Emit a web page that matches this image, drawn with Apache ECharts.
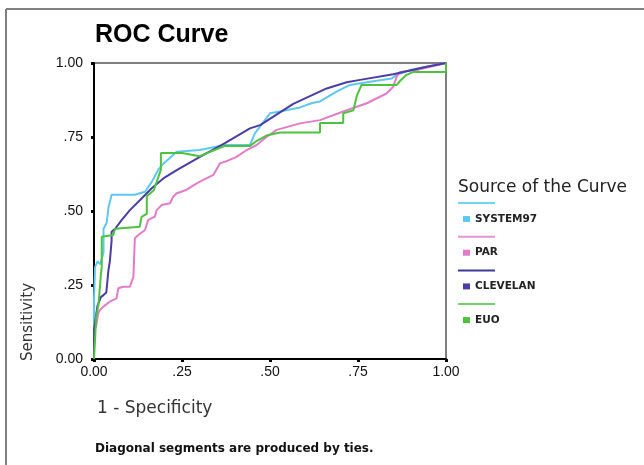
<!DOCTYPE html>
<html>
<head>
<meta charset="utf-8">
<title>ROC Curve</title>
<script src="https://cdn.jsdelivr.net/npm/echarts@6/dist/echarts.min.js"></script>
<style>
  html, body { margin: 0; padding: 0; background: #fff; }
  #chart { width: 644px; height: 465px; }
</style>
</head>
<body>
<div id="chart"></div>
<script>
// curve names, in drawing order (last one on top)
const curveNames = ['SYSTEM97', 'PAR', 'CLEVELAN', 'EUO'];

// [1 - specificity, sensitivity]
const system97 = [
  [0, 0], [0, 0.2], [0.003, 0.31], [0.01, 0.33], [0.018, 0.32], [0.027, 0.36], [0.027, 0.44],
  [0.036, 0.46], [0.041, 0.51], [0.05, 0.555], [0.116, 0.555], [0.13, 0.56], [0.145, 0.565],
  [0.165, 0.6], [0.183, 0.64], [0.197, 0.66], [0.235, 0.7], [0.3, 0.706], [0.372, 0.723],
  [0.443, 0.723], [0.457, 0.762], [0.5, 0.83], [0.528, 0.836], [0.585, 0.85], [0.62, 0.865],
  [0.642, 0.87], [0.689, 0.903], [0.727, 0.926], [0.784, 0.937], [0.846, 0.948], [0.86, 0.96],
  [0.898, 0.976], [1, 1]
];
const par = [
  [0, 0], [0, 0.1], [0.006, 0.11], [0.012, 0.154], [0.017, 0.166], [0.027, 0.177], [0.045, 0.194],
  [0.064, 0.205], [0.069, 0.239], [0.083, 0.244], [0.102, 0.244], [0.112, 0.278], [0.116, 0.408],
  [0.126, 0.419], [0.145, 0.436], [0.154, 0.47], [0.173, 0.481], [0.178, 0.503], [0.192, 0.52],
  [0.216, 0.526], [0.225, 0.548], [0.235, 0.56], [0.26, 0.57], [0.28, 0.585], [0.301, 0.599],
  [0.339, 0.622], [0.358, 0.661], [0.38, 0.67], [0.405, 0.683], [0.434, 0.706], [0.462, 0.723],
  [0.49, 0.75], [0.519, 0.774], [0.585, 0.796], [0.642, 0.807], [0.708, 0.836], [0.775, 0.864],
  [0.831, 0.897], [0.85, 0.92], [0.86, 0.954], [0.87, 0.97], [0.917, 0.976], [1, 1]
];
const clevelan = [
  [0, 0], [0, 0.1], [0.01, 0.18], [0.02, 0.21], [0.027, 0.216], [0.035, 0.225], [0.041, 0.3],
  [0.045, 0.33], [0.05, 0.4], [0.05, 0.43], [0.06, 0.44], [0.079, 0.47], [0.102, 0.503],
  [0.131, 0.537], [0.164, 0.577], [0.197, 0.61], [0.235, 0.638], [0.301, 0.683], [0.372, 0.729],
  [0.443, 0.779], [0.472, 0.79], [0.566, 0.862], [0.661, 0.914], [0.718, 0.935], [0.756, 0.943],
  [0.85, 0.962], [0.945, 0.987], [1, 1]
];
const euo = [
  [0, 0], [0.003, 0.064], [0.006, 0.143], [0.012, 0.177], [0.017, 0.244], [0.019, 0.278],
  [0.022, 0.312], [0.022, 0.413], [0.055, 0.419], [0.06, 0.44], [0.13, 0.447], [0.135, 0.48],
  [0.15, 0.49], [0.15, 0.55], [0.17, 0.57], [0.19, 0.64], [0.19, 0.696], [0.25, 0.696],
  [0.3, 0.685], [0.33, 0.7], [0.372, 0.72], [0.443, 0.72], [0.46, 0.735], [0.49, 0.755],
  [0.528, 0.765], [0.642, 0.765], [0.642, 0.797], [0.708, 0.797], [0.708, 0.83], [0.737, 0.84],
  [0.746, 0.887], [0.76, 0.926], [0.86, 0.926], [0.87, 0.94], [0.888, 0.96], [0.907, 0.97],
  [1, 0.97], [1, 1]
];
const curves = [system97, par, clevelan, euo];

const tickLabels = ['0.00', '.25', '.50', '.75', '1.00'];

const lineColors = ['#5ec8f0', '#e07cc8', '#4b3ca6', '#4cc23e'];
const legendLineColors = ['#74d2f2', '#e494d4', '#3c3c98', '#70d46a'];

const chart = echarts.init(document.getElementById('chart'));

const tickFmt = v => tickLabels[Math.round(v / 0.25)];

const axisCommon = {
  type: 'value',
  min: 0,
  max: 1,
  interval: 0.25,
  axisLine: { show: true, onZero: false, lineStyle: { color: '#000', width: 2 } },
  axisTick: { show: true, length: 3, lineStyle: { color: '#000', width: 3 } },
  splitLine: { show: false },
  axisLabel: {
    formatter: tickFmt,
    fontFamily: 'Liberation Sans',
    fontSize: 14,
    color: '#111'
  }
};

// legend lines drawn above each legend entry
const legendLines = curveNames.map((n, i) => ({
  type: 'line',
  shape: { x1: 458, y1: 203 + i * 33.7, x2: 495, y2: 203 + i * 33.7 },
  style: { stroke: legendLineColors[i], lineWidth: 2 },
  silent: true
}));

chart.setOption({
  animation: false,
  backgroundColor: '#fff',
  title: [
    {
      text: 'ROC Curve',
      left: 95,
      top: 23,
      padding: 0,
      textStyle: { fontFamily: 'Liberation Sans', fontSize: 25, fontWeight: 'bold', color: '#000' }
    },
    {
      text: 'Source of the Curve',
      left: 458,
      top: 179,
      padding: 0,
      textStyle: { fontFamily: 'DejaVu Sans', fontSize: 17, fontWeight: 'normal', color: '#222' }
    }
  ],
  legend: {
    orient: 'vertical',
    left: 463,
    top: 212,
    padding: 0,
    itemGap: 19.7,
    itemWidth: 7,
    itemHeight: 6,
    icon: 'rect',
    data: curveNames,
    textStyle: {
      fontFamily: 'DejaVu Sans',
      fontWeight: 'bold',
      fontSize: 10.5,
      lineHeight: 14,
      color: '#222'
    }
  },
  grid: {
    left: 94,
    top: 63,
    width: 352,
    height: 296,
    show: true,
    borderColor: '#555',
    borderWidth: 1.5
  },
  xAxis: Object.assign({}, axisCommon, {
    axisLabel: Object.assign({}, axisCommon.axisLabel, { margin: 6 })
  }),
  yAxis: Object.assign({}, axisCommon, {
    axisLabel: Object.assign({}, axisCommon.axisLabel, { margin: 11 })
  }),
  series: curveNames.map((name, i) => ({
    name: name,
    type: 'line',
    data: curves[i],
    symbol: 'none',
    showSymbol: false,
    color: lineColors[i],
    lineStyle: { color: lineColors[i], width: 2 },
    z: 2 + i
  })),
  graphic: [
    // outer frame (top and left edges)
    { type: 'line', shape: { x1: 6, y1: 9, x2: 644, y2: 9 }, style: { stroke: '#808080', lineWidth: 2 }, silent: true },
    { type: 'line', shape: { x1: 6, y1: 9, x2: 6, y2: 465 }, style: { stroke: '#808080', lineWidth: 2 }, silent: true },
    ...legendLines,
    {
      type: 'text',
      x: 28,
      y: 322,
      rotation: Math.PI / 2,
      style: {
        text: 'Sensitivity',
        font: '15px "DejaVu Sans"',
        fill: '#333',
        textAlign: 'center',
        textVerticalAlign: 'middle'
      },
      silent: true
    },
    {
      type: 'text',
      x: 97,
      y: 409,
      style: {
        text: '1 - Specificity',
        font: '17px "DejaVu Sans"',
        fill: '#333',
        textAlign: 'left',
        textVerticalAlign: 'middle'
      },
      silent: true
    },
    {
      type: 'text',
      x: 95,
      y: 449,
      style: {
        text: 'Diagonal segments are produced by ties.',
        font: 'bold 12px "DejaVu Sans"',
        fill: '#111',
        textAlign: 'left',
        textVerticalAlign: 'middle'
      },
      silent: true
    }
  ]
});
</script>
</body>
</html>
